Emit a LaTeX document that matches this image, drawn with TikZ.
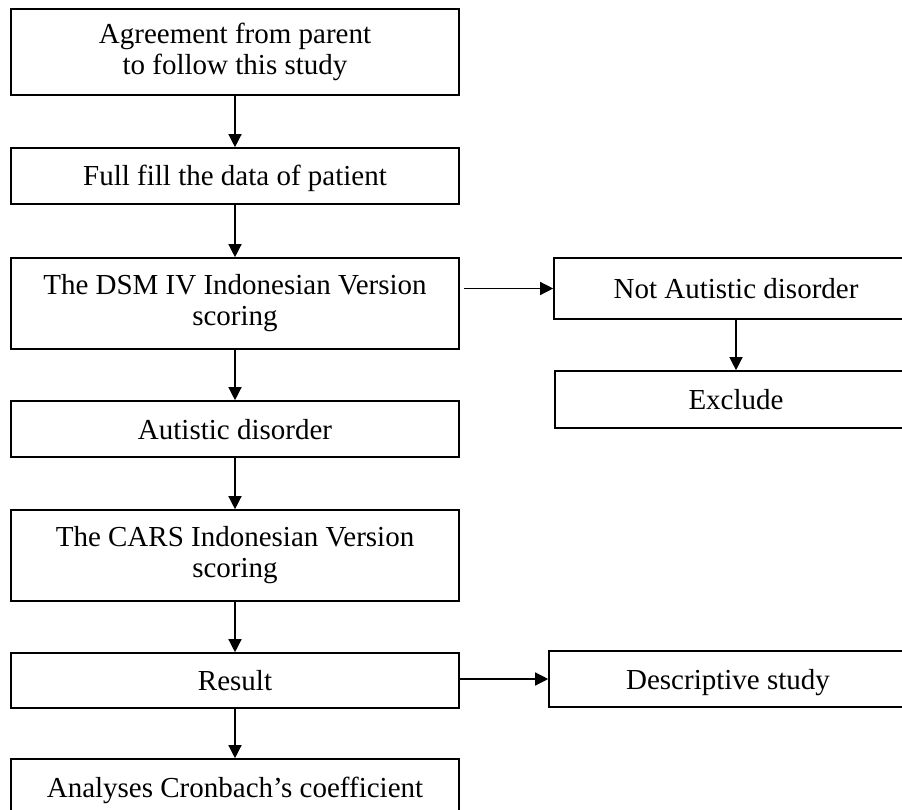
\documentclass[tikz,border=0pt]{standalone}
\usepackage{fontspec}
\setmainfont{Liberation Serif}
\usetikzlibrary{arrows.meta}
\tikzset{
  stepbox/.style={draw, line width=1.6pt, minimum width=448pt, inner sep=0pt,
    align=center, font=\fontsize{29}{31}\selectfont},
  onebox/.style={stepbox, text height=21pt, text depth=1pt},
  sidebox/.style={onebox, minimum width=364pt},
  flow/.style={line width=1.3pt, -{Triangle[length=13pt,width=13pt]}}
}
\begin{document}
\begin{tikzpicture}[x=1pt,y=-1pt]
        \useasboundingbox (0,0) rectangle (902,810);
        \clip (0,0) rectangle (902,810);

        % main column
        \node[stepbox, minimum height=86pt] (agree) at (235,52) {Agreement from parent\\to follow this study};
        \node[onebox, minimum height=56pt] (fill) at (235,176) {Full fill the data of patient};
        \node[stepbox, minimum height=91pt] (dsm) at (235,303.5) {The DSM IV Indonesian Version\\scoring};
        \node[onebox, minimum height=56pt] (autistic) at (235,429) {Autistic disorder};
        \node[stepbox, minimum height=91pt] (cars) at (235,555.5) {The CARS Indonesian Version\\scoring};
        \node[onebox, minimum height=55pt] (result) at (235,680.5) {Result};
        \node[onebox, minimum height=56pt] (cronbach) at (235,787) {Analyses Cronbach's coefficient};

        % side column
        \node[sidebox, minimum height=61pt] (notaut) at (736,288.5) {Not Autistic disorder};
        \node[sidebox, minimum height=57pt, minimum width=362pt] (exclude) at (736,399.5) {Exclude};
        \node[sidebox, minimum height=56pt, minimum width=358pt] (descr) at (728,679) {Descriptive study};

        \draw[flow] (agree) -- (fill);
        \draw[flow] (fill) -- (dsm);
        \draw[flow] (dsm) -- (autistic);
        \draw[flow] (autistic) -- (cars);
        \draw[flow] (cars) -- (result);
        \draw[flow] (result) -- (cronbach);

        \draw[flow, shorten <=4pt] (dsm.east |- notaut.west) -- (notaut.west);
        \draw[flow] (notaut) -- (exclude);
        \draw[flow] (result.east |- descr.west) -- (descr.west);
\end{tikzpicture}
\end{document}
